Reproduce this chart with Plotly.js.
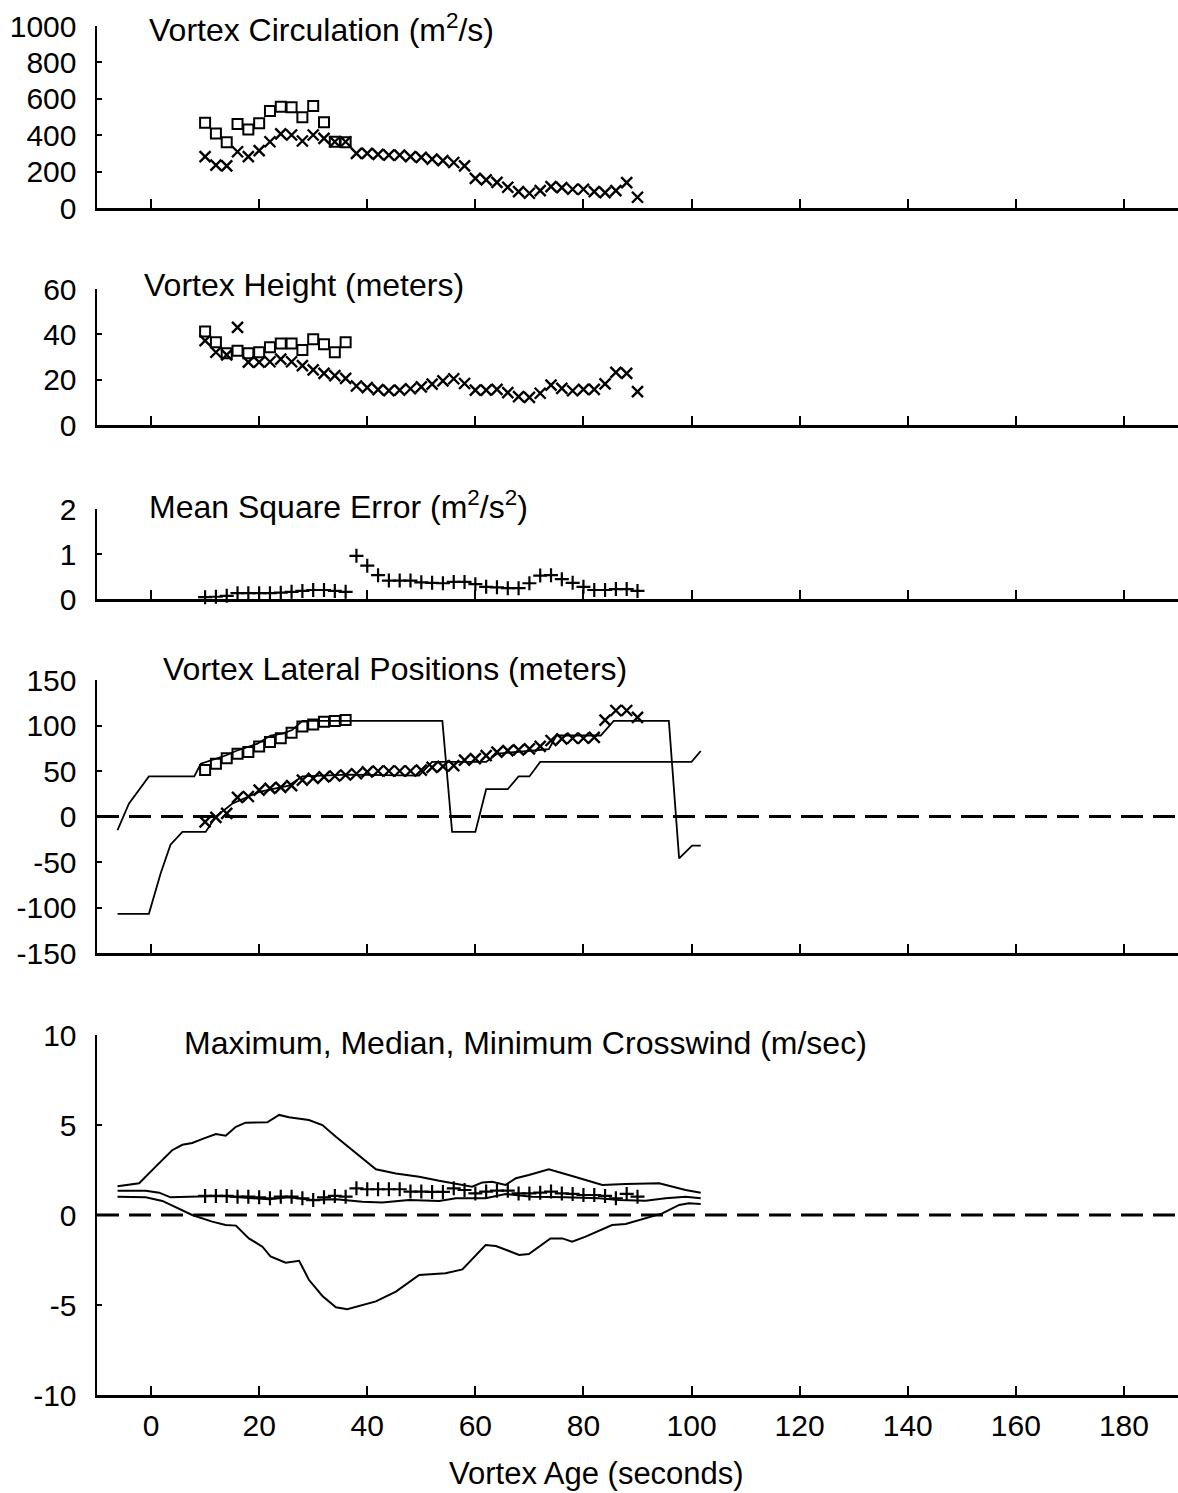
<!DOCTYPE html>
<html><head><meta charset="utf-8">
<script src="https://cdn.plot.ly/plotly-3.0.1.min.js"></script>
<style>html,body{margin:0;padding:0;background:#fff}</style>
</head><body>
<div id="chart" style="width:1178px;height:1493px"></div>
<script>
// ---- data ----
const age = [10,12,14,16,18,20,22,24,26,28,30,32,34,36,38,40,42,44,46,48,50,52,54,56,58,60,62,64,66,68,70,72,74,76,78,80,82,84,86,88,90];
const squareAge = [10,12,14,16,18,20,22,24,26,28,30,32,34,36];
const xTicks = [0,20,40,60,80,100,120,140,160,180];

const circSquare = [469,410,361,462,432,465,533,557,553,498,560,471,364,361];
const circCross = [282,236,232,309,282,315,364,407,401,368,401,383,364,364,300,300,295,291,291,282,278,268,260,250,231,163,154,141,114,90,81,95,117,112,103,103,90,84,95,139,59];

const heightSquare = [41.2,36.5,31.6,32.8,31.6,32.1,34.3,36,36,33.1,37.8,35.6,32.1,36.5];
const heightCross = [37.2,32.1,30.9,43.1,27.7,27.7,27.9,29.1,27.9,26.2,24.3,22.8,21.8,20.6,17.2,16.5,15.6,15.2,15.4,16.0,16.8,18,19.5,20.4,18.3,15.4,15.4,15.7,14.3,12.5,12.2,14,17.6,16.2,15.1,15.7,15.7,18.1,23.2,22.8,14.7];

const mse = [0.04,0.05,0.07,0.13,0.13,0.13,0.13,0.14,0.16,0.18,0.2,0.2,0.18,0.16,0.96,0.74,0.53,0.41,0.41,0.41,0.37,0.36,0.35,0.38,0.38,0.33,0.27,0.26,0.24,0.24,0.35,0.52,0.53,0.44,0.36,0.27,0.2,0.2,0.22,0.22,0.18];

const latSquare = [51,58,64,69,71,77,82,86,92,99,101,104,105,106];
const latCross = [-6,-1,3.5,21,22,29,31,32,34,40,42,43.6,44.5,45.6,47,49,50,50,50,50,51,54,55,56,62,63.5,67,70.7,72.5,73.3,74.4,77,83.5,85.4,86,86,87,106,116.5,116.5,109];
const lineAAge = [-6.2,-4.1,-0.4,8,9.2,11.7,13.8,15.7,17.8,19.7,22.1,24.3,26.1,28,36.6,53.9,55.7,60,62,66,68,70,72,100,101.7];
const lineAPos = [-15,14,44,44,58,63,67,72,76,80,89,91,95,105,105,105,-17,-17,30,30,44,44,60,60,72];
const lineBAge = [-6.2,-0.4,1.8,3.6,5.8,10.1,12,15,20,25.5,28,36.6,49.6,52,62,64,73.6,75,83.2,85.6,95.8,97.7,100.1,101.7];
const lineBPos = [-107,-107,-62,-31,-17,-17,0,14,27,34,44,46,45,60,60,69,74,89,89,105,105,-46,-32,-32];

const maxAge = [-6.2,-2.2,0.9,3.9,5.8,7.6,9.8,12,13.8,15.7,17.5,21.5,23.7,25.5,29.2,31.7,34.2,37.9,41.6,45.3,49.6,53.3,56.4,59.4,61.3,63.1,65.6,67.5,69.9,73.6,77.9,83.5,87.8,94,98.9,101.7];
const maxWind = [1.6,1.76,2.7,3.6,3.9,4.0,4.26,4.5,4.4,4.9,5.13,5.15,5.56,5.43,5.28,5.0,4.35,3.43,2.54,2.31,2.13,1.9,1.72,1.57,1.81,1.85,1.67,2.04,2.22,2.54,2.17,1.67,1.72,1.76,1.39,1.24];
const medAge = [-6.2,-1,1.5,3.6,7,13.2,21.8,25.5,29.8,34.2,39.1,42.8,47.7,53.3,56.4,61.9,65.6,70.5,76.7,82.9,86.6,91.5,95.2,98.9,101.7];
const medWind = [1.35,1.35,1.24,0.98,1.02,1.06,0.87,0.98,0.83,0.87,0.74,0.69,0.83,0.78,0.93,0.93,1.17,1.02,0.98,0.93,0.83,0.79,0.93,1.02,0.93];
const minAge = [-6.2,-1,2.1,4.6,7.6,11.3,13.8,15.7,18.1,20.6,22.1,24.9,27.4,29.2,31.7,34.2,36.3,41.6,45.3,49.6,54.5,57.6,61.9,63.8,68.1,69.9,73.9,76.1,77.9,80.4,85.3,87.8,91.5,94.6,97.7,99.5,101.7];
const minWind = [1.02,0.98,0.78,0.43,0,-0.37,-0.56,-0.59,-1.3,-1.76,-2.3,-2.65,-2.54,-3.6,-4.5,-5.13,-5.24,-4.8,-4.26,-3.33,-3.24,-3.02,-1.67,-1.72,-2.22,-2.17,-1.3,-1.3,-1.48,-1.2,-0.56,-0.5,-0.19,0.09,0.56,0.65,0.61];
const medPoints = [1.06,1.06,1.06,1.02,1.02,0.98,0.93,1.02,1.02,0.93,0.83,0.98,1.06,1.02,1.48,1.43,1.43,1.43,1.43,1.3,1.3,1.28,1.28,1.48,1.39,1.2,1.3,1.35,1.35,1.2,1.2,1.24,1.3,1.2,1.17,1.11,1.11,1.06,0.93,1.17,1.02];

const circTicks = [0,200,400,600,800,1000];
const heightTicks = [0,20,40,60];
const mseTicks = [0,1,2];
const latTicks = [-150,-100,-50,0,50,100,150];
const windTicks = [-10,-5,0,5,10];

const panelTitles = ['Vortex Circulation (m<sup>2</sup>/s)','Vortex Height (meters)','Mean Square Error (m<sup>2</sup>/s<sup>2</sup>)','Vortex Lateral Positions (meters)','Maximum, Median, Minimum Crosswind (m/sec)'];
const xTitle = 'Vortex Age (seconds)';

// ---- styles ----
const FONT = 'Liberation Sans, Arial, sans-serif';
const sq = {symbol:'square-open', size:10, color:'#000', line:{width:2, color:'#000'}};
const xm = {symbol:'x-thin-open', size:11, color:'#000', line:{width:2.4, color:'#000'}};
const pm = {symbol:'cross-thin-open', size:10, color:'#000', line:{width:2.2, color:'#000'}};
const ln = {color:'#000', width:1.8};

const traces = [
  {x:squareAge, y:circSquare, mode:'markers', marker:sq, xaxis:'x', yaxis:'y'},
  {x:age, y:circCross, mode:'markers', marker:xm, xaxis:'x', yaxis:'y'},
  {x:squareAge, y:heightSquare, mode:'markers', marker:sq, xaxis:'x2', yaxis:'y2'},
  {x:age, y:heightCross, mode:'markers', marker:xm, xaxis:'x2', yaxis:'y2'},
  {x:age, y:mse, mode:'markers', marker:pm, xaxis:'x3', yaxis:'y3'},
  {x:lineAAge, y:lineAPos, mode:'lines', line:ln, xaxis:'x4', yaxis:'y4'},
  {x:lineBAge, y:lineBPos, mode:'lines', line:ln, xaxis:'x4', yaxis:'y4'},
  {x:squareAge, y:latSquare, mode:'markers', marker:sq, xaxis:'x4', yaxis:'y4'},
  {x:age, y:latCross, mode:'markers', marker:xm, xaxis:'x4', yaxis:'y4'},
  {x:maxAge, y:maxWind, mode:'lines', line:{color:'#000', width:2}, xaxis:'x5', yaxis:'y5'},
  {x:medAge, y:medWind, mode:'lines', line:{color:'#000', width:2}, xaxis:'x5', yaxis:'y5'},
  {x:minAge, y:minWind, mode:'lines', line:{color:'#000', width:2}, xaxis:'x5', yaxis:'y5'},
  {x:age, y:medPoints, mode:'markers', marker:pm, xaxis:'x5', yaxis:'y5'}
].map(t => Object.assign({showlegend:false, hoverinfo:'skip', cliponaxis:false}, t));

const H = 1493, W = 1178, L = 97, T = 20, B = 98;
const plotH = H - T - B, plotW = W - L;
const py = p => (H - B - p) / plotH;      // pixel row -> paper y
const px = p => (p - L) / plotW;          // pixel col -> paper x
const label = v => String(v).replace('\u2212','-');   // plain hyphen minus as in the reference

const panels = [
  {dom:[208,26], range:[0,1000], ticks:circTicks},
  {dom:[425,289], range:[0,60], ticks:heightTicks},
  {dom:[599,509], range:[0,2], ticks:mseTicks},
  {dom:[953,680], range:[-150,150], ticks:latTicks},
  {dom:[1395,1035], range:[-10,10], ticks:windTicks}
];

const layout = {
  width:W, height:H,
  margin:{l:L, r:0, t:T, b:B},
  paper_bgcolor:'#fff', plot_bgcolor:'#fff',
  font:{family:FONT, size:30, color:'#000'},
  showlegend:false,
  annotations:[], shapes:[]
};
panels.forEach((p,i) => {
  const k = i === 0 ? '' : String(i+1);
  layout['xaxis'+k] = {
    domain:[0,1], range:[-10,190], anchor:'y'+k,
    showline:true, linewidth:2.5, linecolor:'#000',
    ticks:'inside', ticklen:9, tickwidth:2, tickcolor:'#000',
    tickmode:'array', tickvals:xTicks, ticktext:xTicks.map(label),
    showticklabels: i === 4, ticklabelstandoff:2,
    tickfont:{family:FONT, size:30, color:'#000'},
    showgrid:false, zeroline:false, fixedrange:true
  };
  layout['yaxis'+k] = {
    domain:[py(p.dom[0]), py(p.dom[1])], range:p.range, anchor:'x'+k,
    showline:true, linewidth:2.5, linecolor:'#000',
    ticks:'inside', ticklen:5, tickwidth:2, tickcolor:'#000',
    tickmode:'array', tickvals:p.ticks, ticktext:p.ticks.map(label), ticklabelstandoff:12,
    tickfont:{family:FONT, size:30, color:'#000'},
    showgrid:false, zeroline:false, fixedrange:true
  };
});

// zero reference lines (dashed)
[4,5].forEach(n => {
  layout.shapes.push({type:'line', xref:'x'+n+' domain', yref:'y'+n, x0:0, x1:1, y0:0, y1:0,
    line:{color:'#000', width:2.8, dash:'22px,10px'}});
});

const titlePos = [[147,28],[142,285],[147,505],[161,669],[182,1043]];
panelTitles.forEach((t,i) => {
  layout.annotations.push({text:t, xref:'paper', yref:'paper', x:px(titlePos[i][0]), y:py(titlePos[i][1]),
    xanchor:'left', yanchor:'middle', showarrow:false, font:{family:FONT, size:32, color:'#000'}});
});
layout.annotations.push({text:xTitle, xref:'paper', yref:'paper', x:px(596), y:py(1473),
  xanchor:'center', yanchor:'middle', showarrow:false, font:{family:FONT, size:31, color:'#000'}});

Plotly.newPlot('chart', traces, layout, {staticPlot:true, displayModeBar:false});
</script>
</body></html>
